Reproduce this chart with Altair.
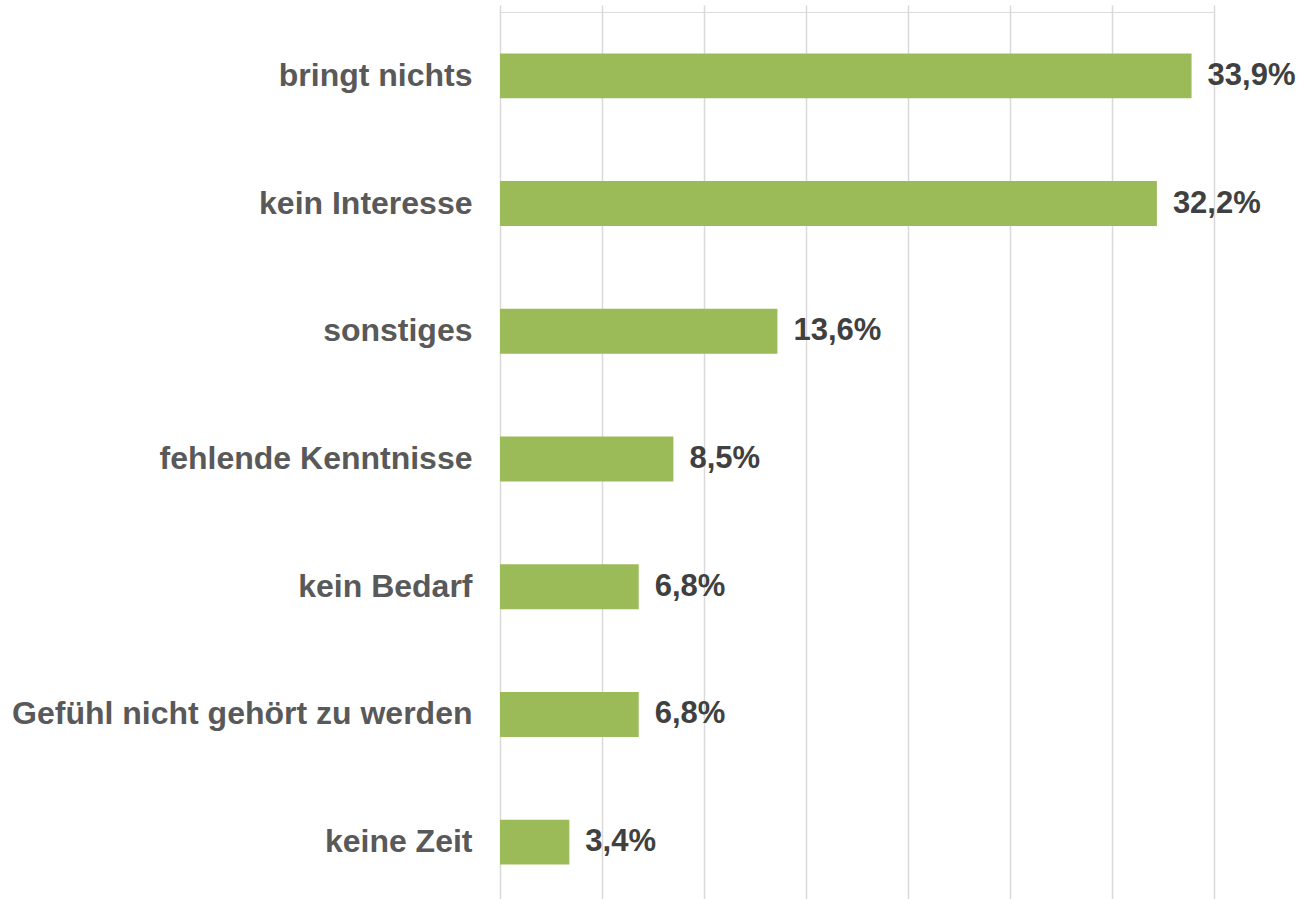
import altair as alt
import pandas as pd

categories = ["bringt nichts", "kein Interesse", "sonstiges", "fehlende Kenntnisse",
              "kein Bedarf", "Gefühl nicht gehört zu werden", "keine Zeit"]
values = [33.9, 32.2, 13.6, 8.5, 6.8, 6.8, 3.4]
labels = ["33,9%", "32,2%", "13,6%", "8,5%", "6,8%", "6,8%", "3,4%"]

df = pd.DataFrame({"cat": categories, "val": values, "lab": labels})

y = alt.Y("cat:N", sort=categories, title=None,
          scale=alt.Scale(paddingInner=0.648, paddingOuter=0.324, range=[0, 894]),
          axis=alt.Axis(domain=False, ticks=False, labelFont="Liberation Sans",
                        labelFontWeight="bold", labelFontSize=32, labelColor="#595959",
                        labelPadding=28, labelLimit=0))
x = alt.X("val:Q", title=None,
          scale=alt.Scale(domain=[0, 35], nice=False),
          axis=alt.Axis(values=[0, 5, 10, 15, 20, 25, 30, 35], labels=False, ticks=False,
                        domain=False, grid=True, gridColor="#d9d9d9", gridWidth=1.5))

bars = alt.Chart(df).mark_bar(color="#9BBB59").encode(x=x, y=y)
text = alt.Chart(df).mark_text(align="left", baseline="middle", dx=16, font="Liberation Sans",
                               fontWeight="bold", fontSize=31, color="#404040").encode(
    x="val:Q", y=alt.Y("cat:N", sort=categories), text="lab:N")

chart = (bars + text).properties(
    width=714, height=887,
    autosize=alt.AutoSizeParams(type="none"),
    padding={"left": 500, "top": 12, "right": 87, "bottom": 0},
).configure_view(stroke=None).configure(background="white")

chart.save("out.html", embed_options={"renderer": "svg", "actions": False})
